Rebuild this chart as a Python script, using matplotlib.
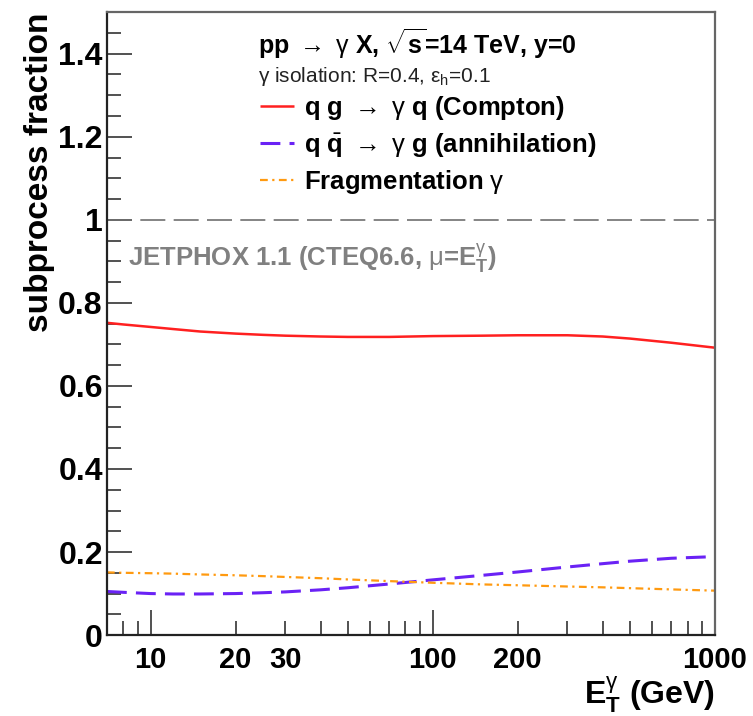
"""Subprocess fractions for isolated prompt photons at the LHC (JETPHOX)."""
import matplotlib
matplotlib.use("Agg")
import matplotlib.pyplot as plt
from matplotlib.ticker import FixedLocator, FixedFormatter, MultipleLocator

plt.rcParams["font.family"] = ["Liberation Sans", "DejaVu Sans"]
plt.rcParams["mathtext.fontset"] = "custom"
plt.rcParams["mathtext.rm"] = "Liberation Sans"
plt.rcParams["mathtext.bf"] = "Liberation Sans:bold"
plt.rcParams["mathtext.it"] = "Liberation Sans:italic"

# E_T^gamma (GeV) and subprocess fractions
et = [7, 8, 10, 12, 15, 20, 25, 30, 40, 50, 70, 100, 150, 200, 300, 400, 500, 700, 1000]
compton = [0.752, 0.748, 0.742, 0.737, 0.731, 0.726, 0.723, 0.721, 0.719, 0.718, 0.718, 0.720,
           0.721, 0.722, 0.722, 0.719, 0.714, 0.704, 0.692]
annihilation = [0.105, 0.103, 0.100, 0.099, 0.099, 0.100, 0.102, 0.104, 0.109, 0.114, 0.123, 0.133,
                0.144, 0.152, 0.164, 0.172, 0.178, 0.185, 0.189]
fragmentation = [0.151, 0.150, 0.149, 0.148, 0.146, 0.144, 0.142, 0.140, 0.137, 0.134, 0.130, 0.126,
                 0.122, 0.120, 0.117, 0.115, 0.113, 0.110, 0.107]

xticks_major = [10, 100, 1000]
xticks_minor = [8, 9, 20, 30, 40, 50, 60, 70, 80, 90, 200, 300, 400, 500, 600, 700, 800, 900]
xminor_labels = ["", "", "20", "30", "", "", "", "", "", "", "200", "", "", "", "", "", "", ""]

fig = plt.figure(figsize=(7.53, 7.16), dpi=100)
ax = fig.add_axes([0.142, 0.113, 0.8076, 0.870])

ax.plot(et, compton, color="#ff2020", lw=1.8, solid_capstyle="butt",
        label=r"q g $\rightarrow$ $\mathrm{\gamma}$ q (Compton)")
ax.plot(et, annihilation, color="#6a22f5", lw=2.2, dashes=(6.5, 3),
        label=r"q $\bar{\mathbf{q}}$ $\rightarrow$ $\mathrm{\gamma}$ g (annihilation)")
ax.plot(et, fragmentation, color="#ff9a10", lw=1.6, dashes=(3.5, 2, 1, 2),
        label=r"Fragmentation $\mathrm{\gamma}$")
ax.axhline(1.0, color="#707070", lw=1.2, dashes=(15, 5))

ax.set_xscale("log")
ax.set_xlim(7, 1000)
ax.set_ylim(0, 1.5)

ax.xaxis.set_major_locator(FixedLocator(xticks_major))
ax.xaxis.set_major_formatter(FixedFormatter([str(v) for v in xticks_major]))
ax.xaxis.set_minor_locator(FixedLocator(xticks_minor))
ax.xaxis.set_minor_formatter(FixedFormatter(xminor_labels))
ax.yaxis.set_major_locator(MultipleLocator(0.2))
ax.yaxis.set_minor_locator(MultipleLocator(0.05))
ax.yaxis.set_major_formatter(plt.FuncFormatter(
    lambda v, p: "0" if abs(v) < 1e-9 else ("1" if abs(v - 1) < 1e-9 else f"{v:.1f}")))

ax.tick_params(which="both", direction="in", top=False, right=False, color="#333333", width=1.2)
ax.tick_params(which="major", length=18)
ax.tick_params(which="minor", length=10)
ax.tick_params(axis="x", which="both", labelsize=21, pad=8)
ax.tick_params(axis="y", which="both", labelsize=23, pad=3)
for lab in ax.get_xticklabels(which="both") + ax.get_yticklabels():
    lab.set_fontweight("bold")

for side in ["left", "bottom"]:
    ax.spines[side].set_color("#222222")
    ax.spines[side].set_linewidth(1.6)
for side in ["right", "top"]:
    ax.spines[side].set_color("#666666")
    ax.spines[side].set_linewidth(1.6)

ax.set_ylabel("subprocess fraction", fontsize=24, fontweight="bold", loc="top", labelpad=2)
ax.set_xlabel(r"$\mathbf{E}_\mathbf{T}^{\mathrm{\gamma}}$ (GeV)", fontsize=23, fontweight="bold",
              loc="right", labelpad=0)

ax.text(0.248, 0.950, r"pp $\rightarrow$ $\mathrm{\gamma}$ X, $\sqrt{\mathbf{s}}$=14 TeV, y=0",
        transform=ax.transAxes, fontsize=18, fontweight="bold", va="center", ha="left")
ax.text(0.248, 0.897, r"$\mathrm{\gamma}$ isolation: R=0.4, $\mathrm{\varepsilon_h}$=0.1",
        transform=ax.transAxes, fontsize=15, va="center", ha="left", color="#222222")
ax.text(0.034, 0.605, r"JETPHOX 1.1 (CTEQ6.6, $\mathrm{\mu}$=$\mathbf{E}_\mathbf{T}^{\mathrm{\gamma}}$)",
        transform=ax.transAxes, fontsize=18.5, fontweight="bold", va="center", ha="left", color="#808080")

leg = ax.legend(loc="upper left", bbox_to_anchor=(0.252, 0.868), frameon=False,
                prop={"size": 18.5, "weight": "bold"},
                handlelength=1.3, handletextpad=0.4, labelspacing=0.35, borderpad=0, borderaxespad=0)

fig.savefig("out.png", dpi=100)
